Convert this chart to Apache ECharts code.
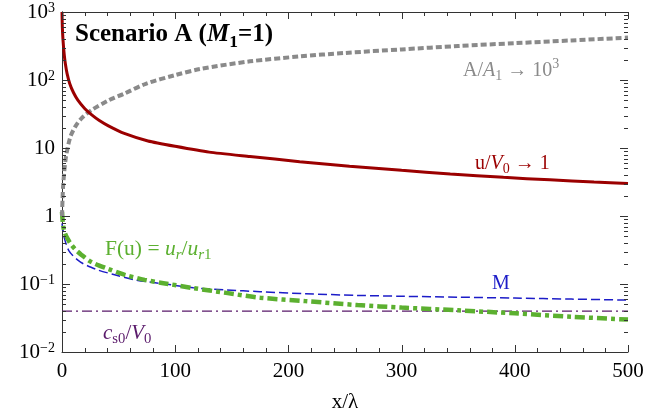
<!DOCTYPE html>
<html><head><meta charset="utf-8">
<script src="https://cdn.jsdelivr.net/npm/echarts@6/dist/echarts.min.js"></script>
<style>html,body{margin:0;padding:0;background:#fff}#c{width:671px;height:418px}</style>
</head><body><div id="c"></div>
<script>
// ---- data ----
const uX = [0,0.3,0.9,2,3,4.5,6.8,10,14,20,26,33,41,55,76,100,130,166,210,254,300,343,390,431,470,500];
const uY = [1000,600,387,233,172,124,89,66,50.5,38.2,31,25.4,21.2,16.4,12.7,10.6,8.7,7.5,6.3,5.4,4.7,4.15,3.7,3.4,3.15,3.0];
const aX = [0,0.5,1,2,3,4,6,8,12,17,26,41,55,74,100,122,166,210,250,300,350,400,450,500];
const aY = [1.0,1.8,2.8,4.5,6.5,8.3,12,15.5,21,27,36,50,63,88,118,145,188,222,250,282,316,348,382,420];
const fX = [0,1,2.4,5,8.2,12,17,26,41,55,73,91,116,145,175,215,261,300,350,400,450,500];
const fY = [1.15,0.72,0.57,0.46,0.38,0.32,0.27,0.21,0.166,0.137,0.115,0.102,0.087,0.074,0.063,0.056,0.049,0.045,0.041,0.037,0.033,0.030];
const mX = [0,1,2,3.8,6,9.7,14,18.5,25,32,46.5,64,91,116,145,175,215,261,300,350,400,450,500];
const mY = [0.78,0.6,0.48,0.38,0.31,0.26,0.225,0.20,0.178,0.16,0.137,0.115,0.10,0.088,0.082,0.077,0.072,0.068,0.066,0.064,0.062,0.060,0.058];
const cX = [0,500];
const cY = [0.04,0.04];
const xTicks = [0,100,200,300,400,500];
const xMinorTicks = [20,40,60,80,120,140,160,180,220,240,260,280,320,340,360,380,420,440,460,480];
const yTickValues = [0.01,0.1,1,10,100,1000];
const yTickLabels = ['{n|10}{s|−2}','{n|10}{s|−1}','{n|1}','{n|10}','{n|10}{s|2}','{n|10}{s|3}'];
const yMinorTicks = [0.02,0.03,0.04,0.05,0.06,0.07,0.08,0.09,0.2,0.3,0.4,0.5,0.6,0.7,0.8,0.9,2,3,4,5,6,7,8,9,20,30,40,50,60,70,80,90,200,300,400,500,600,700,800,900];

const zip = (xs, ys) => xs.map((x, i) => [x, ys[i]]);
const FONT = '"Liberation Serif","Times New Roman",serif';
const AX = '#333';

const chart = echarts.init(document.getElementById('c'), null, {renderer: 'canvas'});

const ctx = document.createElement('canvas').getContext('2d');
function segText(x0, base, size, color, segs) {
  const children = [];
  let x = x0;
  segs.forEach(sg => {
    const fs = size * (sg.s || 1);
    const font = (sg.i ? 'italic ' : '') + (sg.b ? 'bold ' : '') + fs + 'px ' + FONT;
    ctx.font = font;
    const w = ctx.measureText(sg.t).width;
    children.push({type: 'text', x: x, y: base + (sg.dy || 0) - 0.33 * fs,
      style: {text: sg.t, font: font, fill: color, verticalAlign: 'middle', align: 'left'}, silent: true});
    x += w;
  });
  return {type: 'group', children: children};
}

// tick marks drawn through the axes' own scales
const tickData = []
  .concat(xTicks.map(v => [v, 1, 0]))
  .concat(xMinorTicks.map(v => [v, 1, 1]))
  .concat(yTickValues.map(v => [1, v, 2]))
  .concat(yMinorTicks.map(v => [1, v, 3]));

function renderTick(params, api) {
  const cs = params.coordSys;
  const kind = api.value(2);
  const st = {stroke: AX, lineWidth: 1};
  if (kind < 2) {
    const L = kind === 0 ? 7 : 4;
    const px = Math.round(api.coord([api.value(0), 1])[0]) + 0.5;
    const yb = cs.y + cs.height, yt = cs.y;
    return {type: 'group', children: [
      {type: 'line', shape: {x1: px, y1: yb, x2: px, y2: yb - L}, style: st},
      {type: 'line', shape: {x1: px, y1: yt, x2: px, y2: yt + L}, style: st}]};
  } else {
    const L = kind === 2 ? 8 : 4;
    const py = Math.round(api.coord([1, api.value(1)])[1]) + 0.5;
    const xl = cs.x, xr = cs.x + cs.width;
    return {type: 'group', children: [
      {type: 'line', shape: {x1: xl, y1: py, x2: xl + L, y2: py}, style: st},
      {type: 'line', shape: {x1: xr, y1: py, x2: xr - L, y2: py}, style: st}]};
  }
}

const yBase = {type: 'log', logBase: 10, min: 0.01, max: 1000, splitLine: {show: false}, axisTick: {show: false}};
const xBase = {type: 'value', min: 0, max: 500, interval: 100, splitLine: {show: false}, axisTick: {show: false}};

const option = {
  animation: false,
  backgroundColor: '#fff',
  grid: {left: 62, right: 43, top: 12, bottom: 66, containLabel: false},
  xAxis: [
    Object.assign({}, xBase, {position: 'bottom',
      axisLine: {show: true, lineStyle: {color: AX, width: 1}},
      axisLabel: {show: true, margin: 9, color: '#000', fontFamily: FONT, fontSize: 21,
        formatter: v => String(v)},
      name: 'x/λ', nameLocation: 'middle', nameGap: 40,
      nameTextStyle: {color: '#000', fontFamily: FONT, fontSize: 21}}),
    Object.assign({}, xBase, {position: 'top',
      axisLine: {show: true, lineStyle: {color: AX, width: 1}},
      axisLabel: {show: false}})
  ],
  yAxis: [
    Object.assign({}, yBase, {position: 'left',
      axisLine: {show: true, lineStyle: {color: AX, width: 1}},
      axisLabel: {show: true, margin: 7, color: '#000',
        formatter: v => { const i = yTickValues.findIndex(t => Math.abs(Math.log10(t) - Math.log10(v)) < 1e-6); return i >= 0 ? yTickLabels[i] : ''; },
        rich: {
          n: {fontFamily: FONT, fontSize: 21, lineHeight: 22, color: '#000', verticalAlign: 'bottom'},
          s: {fontFamily: FONT, fontSize: 14, lineHeight: 14, color: '#000', verticalAlign: 'top'}
        }}}),
    Object.assign({}, yBase, {position: 'right',
      axisLine: {show: true, lineStyle: {color: AX, width: 1}},
      axisLabel: {show: false}})
  ],
  series: [
    {name: 'ticks', type: 'custom', data: tickData, renderItem: renderTick,
      encode: {x: 0, y: 1}, clip: false, silent: true, z: 10},
    {name: 'cs0', type: 'line', data: zip(cX, cY), showSymbol: false, z: 2,
      lineStyle: {color: '#5a1a6b', width: 1.3, type: [10, 4, 2, 4]}},
    {name: 'M', type: 'line', data: zip(mX, mY), showSymbol: false, smooth: 0.3, z: 3,
      lineStyle: {color: '#1c1cc8', width: 1.5, type: [9, 4]}},
    {name: 'F', type: 'line', data: zip(fX, fY), showSymbol: false, smooth: 0.3, z: 4,
      lineStyle: {color: '#5cb030', width: 4.5, type: [10, 4, 4, 4]}},
    {name: 'A', type: 'line', data: zip(aX, aY), showSymbol: false, smooth: 0.3, z: 5,
      lineStyle: {color: '#8a8a8a', width: 4, type: [6, 3]}},
    {name: 'u', type: 'line', data: zip(uX, uY), showSymbol: false, smooth: 0.2, z: 6,
      lineStyle: {color: '#9b0000', width: 3, type: 'solid'}}
  ],
  graphic: [
    segText(75, 43, 25, '#000', [{t: 'Scenario A (', b: 1}, {t: 'M', b: 1, i: 1}, {t: '1', b: 1, s: 0.7, dy: 5}, {t: '=1)', b: 1}]),
    segText(463, 77, 20, '#8a8a8a', [{t: 'A/'}, {t: 'A', i: 1}, {t: '1', s: 0.7, dy: 4}, {t: ' → 10'}, {t: '3', s: 0.7, dy: -8}]),
    segText(475, 170, 20, '#9b0000', [{t: 'u/'}, {t: 'V', i: 1}, {t: '0', s: 0.7, dy: 4}, {t: ' → 1'}]),
    segText(105, 256, 21.5, '#5cb030', [{t: 'F(u) = '}, {t: 'u', i: 1}, {t: 'r', i: 1, s: 0.7, dy: 4}, {t: '/'}, {t: 'u', i: 1}, {t: 'r', i: 1, s: 0.7, dy: 4}, {t: '1', s: 0.7, dy: 4}]),
    segText(492, 290, 20, '#1c1cc8', [{t: 'M'}]),
    segText(103, 340, 21, '#5a1a6b', [{t: 'c', i: 1}, {t: 's0', s: 0.7, dy: 4}, {t: '/'}, {t: 'V', i: 1}, {t: '0', s: 0.7, dy: 4}])
  ]
};
chart.setOption(option);
</script></body></html>
